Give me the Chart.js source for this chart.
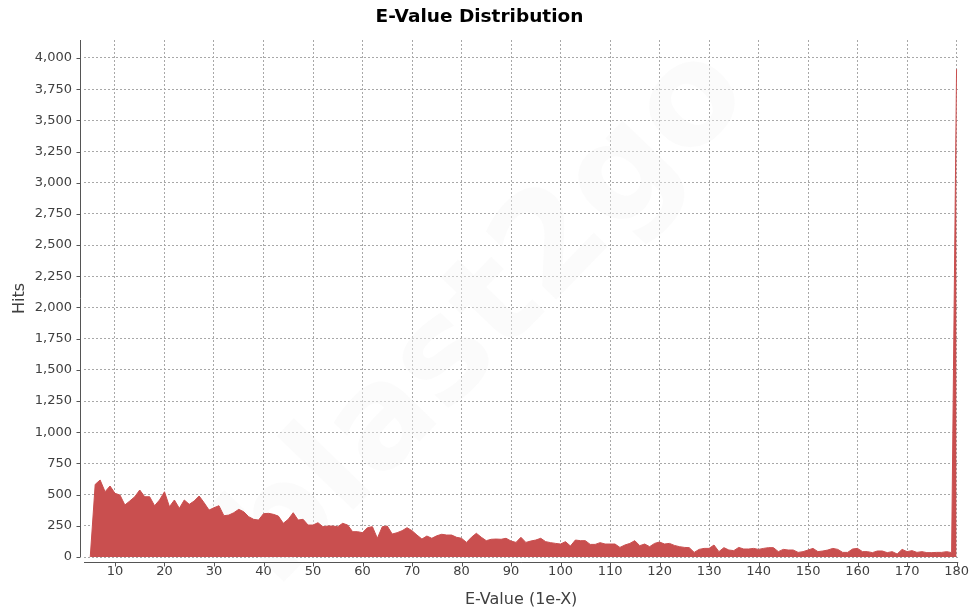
<!DOCTYPE html>
<html>
<head>
<meta charset="utf-8">
<script src="https://cdn.jsdelivr.net/npm/chart.js@4.4.0/dist/chart.umd.min.js"></script>
<style>
  html, body { margin: 0; padding: 0; background: #fff; }
</style>
</head>
<body>
<canvas id="evalue-chart" width="976" height="615"></canvas>
<script>
// e-value exponent of the first bin (1e-5), one bin per exponent after that
const firstExponent = 5;

const hits = [
  0, 582, 617, 523, 569, 510, 497, 417, 449, 483,
  537, 483, 483, 411, 457, 523, 403, 457, 390, 457,
  422, 449, 489, 435, 376, 395, 411, 331, 336, 355,
  382, 363, 323, 302, 296, 347, 350, 342, 328, 270,
  302, 355, 296, 302, 256, 256, 275, 243, 248, 248,
  243, 270, 256, 203, 203, 195, 235, 243, 150, 243,
  248, 184, 195, 211, 235, 211, 176, 144, 168, 150,
  170, 182, 176, 176, 158, 150, 117, 158, 190, 158,
  131, 142, 144, 142, 150, 128, 117, 158, 117, 128,
  136, 150, 123, 115, 109, 104, 123, 88, 136, 131,
  131, 101, 101, 115, 104, 104, 104, 77, 96, 109,
  131, 91, 104, 83, 109, 120, 104, 109, 93, 83,
  77, 75, 37, 61, 69, 69, 96, 43, 75, 56,
  51, 77, 64, 64, 69, 61, 69, 75, 75, 43,
  61, 56, 56, 37, 43, 56, 69, 43, 48, 56,
  69, 61, 37, 37, 64, 69, 43, 43, 35, 48,
  48, 35, 43, 24, 61, 43, 51, 37, 43, 35,
  35, 37, 37, 43, 35, 3910
];

const xTickLabels = [10, 20, 30, 40, 50, 60, 70, 80, 90, 100, 110, 120, 130, 140, 150, 160, 170, 180];
const yTickLabels = [0, 250, 500, 750, 1000, 1250, 1500, 1750, 2000, 2250, 2500, 2750, 3000, 3250, 3500, 3750, 4000];

const points = hits.map(function(h, i){
  return {x: firstExponent + i, y: h};
});

const fillColor = 'rgb(201, 79, 79)';
const gridColor = '#a8a8a8';
const axisColor = '#555';
const textColor = '#404040';
const fontFamily = "'DejaVu Sans', Verdana, sans-serif";

// faint "blast2go" stamp behind the series
const watermark = {
  id: 'watermark',
  beforeDatasetsDraw(chart) {
    const ctx = chart.ctx;
    ctx.save();
    ctx.translate(488, 318);
    ctx.rotate(-46 * Math.PI / 180);
    ctx.font = 'bold 140px ' + fontFamily;
    ctx.textAlign = 'center';
    ctx.textBaseline = 'middle';
    ctx.fillStyle = 'rgba(246, 246, 246, 0.4)';
    ctx.fillText('blast2go', 0, 0);
    ctx.restore();
  }
};

// axis lines sit a few pixels off the data area, like the original
const offsetAxes = {
  id: 'offsetAxes',
  afterDraw(chart) {
    const {ctx, chartArea: a, scales} = chart;
    ctx.save();
    ctx.strokeStyle = axisColor;
    ctx.lineWidth = 1;
    ctx.beginPath();
    const yx = Math.round(a.left) - 3.5;
    ctx.moveTo(yx, a.top);
    ctx.lineTo(yx, a.bottom);
    scales.y.ticks.forEach(function(t){
      const py = Math.round(scales.y.getPixelForValue(t.value)) + 0.5;
      ctx.moveTo(yx - 4, py);
      ctx.lineTo(yx, py);
    });
    const xy = Math.round(a.bottom) + 5.5;
    ctx.moveTo(a.left, xy);
    ctx.lineTo(a.right, xy);
    scales.x.ticks.forEach(function(t){
      const px = Math.round(scales.x.getPixelForValue(t.value)) + 0.5;
      ctx.moveTo(px, xy);
      ctx.lineTo(px, xy + 4);
    });
    ctx.stroke();
    ctx.restore();
  }
};

const config = {
  type: 'line',
  data: {
    datasets: [{
      data: points,
      fill: 'origin',
      backgroundColor: fillColor,
      borderColor: fillColor,
      borderWidth: 1,
      pointRadius: 0,
      tension: 0
    }]
  },
  options: {
    responsive: false,
    animation: false,
    devicePixelRatio: 1,
    layout: { padding: { left: 0, right: 17, top: 0, bottom: 0 } },
    plugins: {
      legend: { display: false },
      tooltip: { enabled: false },
      title: {
        display: true,
        text: 'E-Value Distribution',
        color: '#000',
        font: { family: fontFamily, size: 18.5, weight: 'bold' },
        padding: { top: 6, bottom: 11.8 }
      }
    },
    scales: {
      x: {
        type: 'linear',
        min: 3.74,
        max: 180.34,
        afterBuildTicks: function(scale){
          scale.ticks = xTickLabels.map(function(v){ return {value: v}; });
        },
        afterFit: function(scale){ scale.height = 58; },
        border: { display: false, dash: [2, 2] },
        grid: {
          color: gridColor,
          lineWidth: 1,
          drawTicks: false
        },
        ticks: {
          color: textColor,
          font: { family: fontFamily, size: 13 },
          padding: 7,
          maxRotation: 0,
          autoSkip: false,
          callback: function(v){ return String(v); }
        },
        title: {
          display: true,
          text: 'E-Value (1e-X)',
          color: textColor,
          font: { family: fontFamily, size: 16 },
          padding: { top: 0, bottom: 6 }
        }
      },
      y: {
        min: 0,
        max: 4144,
        afterBuildTicks: function(scale){
          scale.ticks = yTickLabels.map(function(v){ return {value: v}; });
        },
        afterFit: function(scale){ scale.width = 84; },
        border: { display: false, dash: [2, 2] },
        grid: {
          color: gridColor,
          lineWidth: 1,
          drawTicks: false
        },
        ticks: {
          color: textColor,
          font: { family: fontFamily, size: 13 },
          padding: 12,
          autoSkip: false,
          callback: function(v){ return v.toLocaleString('en-US'); }
        },
        title: {
          display: true,
          text: 'Hits',
          color: textColor,
          font: { family: fontFamily, size: 16 },
          padding: { top: 10, bottom: 0 }
        }
      }
    }
  },
  plugins: [watermark, offsetAxes]
};

const eValueChart = new Chart(
  document.getElementById('evalue-chart'),
  config
);
</script>
</body>
</html>
